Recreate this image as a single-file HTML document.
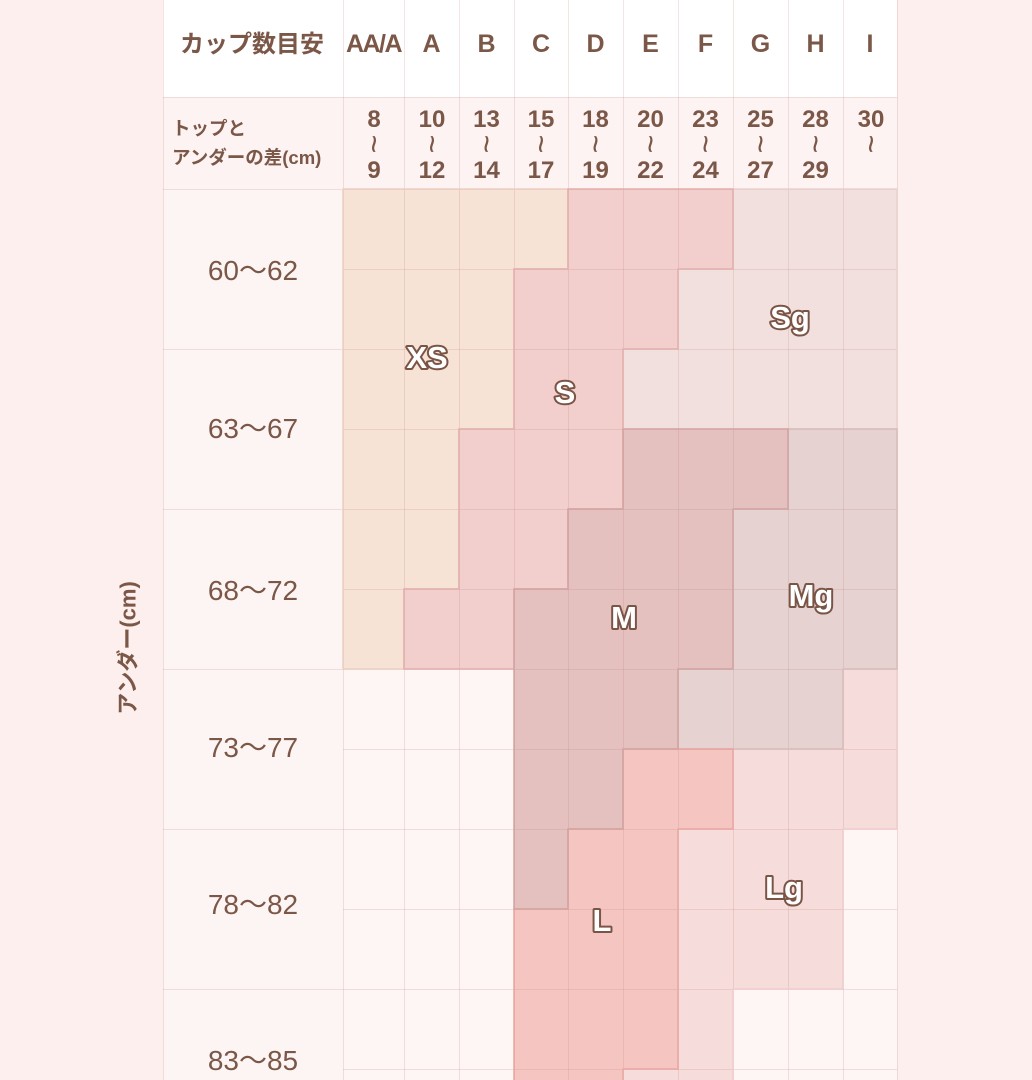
<!DOCTYPE html>
<html><head><meta charset="utf-8"><style>
html,body{margin:0;padding:0;background:#fcefed;width:1032px;height:1080px;overflow:hidden;}
svg{display:block;}
text{font-family:"Liberation Sans","Noto Sans CJK JP",sans-serif;fill:#7b5748;}
.h{font-weight:bold;font-size:25px;text-anchor:middle;}
.n{font-weight:bold;font-size:24px;text-anchor:middle;}
.rl{font-size:28px;text-anchor:middle;}
.lab{font-weight:bold;font-size:31px;text-anchor:middle;fill:#fff;stroke:#7a5445;stroke-width:4;paint-order:stroke;stroke-linejoin:round;}
</style></head><body>
<svg width="1032" height="1080" viewBox="0 0 1032 1080" xmlns="http://www.w3.org/2000/svg">
<rect x="0" y="0" width="1032" height="1080" fill="#fcefed"/>
<!-- header rows -->
<rect x="163" y="0" width="734" height="97" fill="#ffffff"/>
<rect x="163" y="97" width="734" height="92" fill="#fdf3f2"/>
<!-- label column -->
<rect x="163" y="189" width="180" height="891" fill="#fdf5f4"/>
<!-- empty cell bg -->
<rect x="343" y="189" width="554" height="891" fill="#fdf6f5"/>

<!-- region fills -->
<g>
<polygon fill="#f7e2d6" points="343,189 568,189 568,269 514,269 514,429 459,429 459,589 404,589 404,669 343,669"/>
<polygon fill="#f2cfcd" points="568,189 733,189 733,269 678,269 678,349 623,349 623,509 568,509 568,589 514,589 514,669 404,669 404,589 459,589 459,429 514,429 514,269 568,269"/>
<polygon fill="#f2e0de" points="733,189 897,189 897,429 623,429 623,349 678,349 678,269 733,269"/>
<polygon fill="#e4c1bf" points="623,429 788,429 788,509 733,509 733,669 678,669 678,749 623,749 623,829 568,829 568,909 514,909 514,589 568,589 568,509 623,509"/>
<polygon fill="#e6d3d1" points="788,429 897,429 897,669 843,669 843,749 678,749 678,669 733,669 733,509 788,509"/>
<polygon fill="#f5c6c1" points="623,749 733,749 733,829 678,829 678,1069 623,1069 623,1090 514,1090 514,909 568,909 568,829 623,829"/>
<polygon fill="#f6dcda" points="843,669 897,669 897,829 843,829 843,989 733,989 733,1090 623,1090 623,1069 678,1069 678,829 733,829 733,749 843,749"/>
</g>

<!-- grid lines -->
<g stroke="rgba(190,125,115,0.2)" stroke-width="1">
<line x1="163" y1="97.5" x2="897" y2="97.5"/>
<line x1="163" y1="189.5" x2="897" y2="189.5"/>
<line x1="163.5" y1="0" x2="163.5" y2="1080"/>
<line x1="343.5" y1="0" x2="343.5" y2="1080"/>
<line x1="404.5" y1="0" x2="404.5" y2="1080"/>
<line x1="459.5" y1="0" x2="459.5" y2="1080"/>
<line x1="514.5" y1="0" x2="514.5" y2="1080"/>
<line x1="568.5" y1="0" x2="568.5" y2="1080"/>
<line x1="623.5" y1="0" x2="623.5" y2="1080"/>
<line x1="678.5" y1="0" x2="678.5" y2="1080"/>
<line x1="733.5" y1="0" x2="733.5" y2="1080"/>
<line x1="788.5" y1="0" x2="788.5" y2="1080"/>
<line x1="843.5" y1="0" x2="843.5" y2="1080"/>
<line x1="897.5" y1="0" x2="897.5" y2="1080"/>
<line x1="343" y1="269.5" x2="897" y2="269.5"/>
<line x1="163" y1="349.5" x2="897" y2="349.5"/>
<line x1="343" y1="429.5" x2="897" y2="429.5"/>
<line x1="163" y1="509.5" x2="897" y2="509.5"/>
<line x1="343" y1="589.5" x2="897" y2="589.5"/>
<line x1="163" y1="669.5" x2="897" y2="669.5"/>
<line x1="343" y1="749.5" x2="897" y2="749.5"/>
<line x1="163" y1="829.5" x2="897" y2="829.5"/>
<line x1="343" y1="909.5" x2="897" y2="909.5"/>
<line x1="163" y1="989.5" x2="897" y2="989.5"/>
<line x1="343" y1="1069.5" x2="897" y2="1069.5"/>
</g>

<!-- region borders -->
<g fill="none" stroke-width="1.5">
<polygon stroke="#efcdcb" points="843,669 897,669 897,829 843,829 843,989 733,989 733,1090 623,1090 623,1069 678,1069 678,829 733,829 733,749 843,749"/>
<polygon stroke="#ead2cf" points="733,189 897,189 897,429 623,429 623,349 678,349 678,269 733,269"/>
<polygon stroke="#ecd0c2" points="343,189 568,189 568,269 514,269 514,429 459,429 459,589 404,589 404,669 343,669"/>
<polygon stroke="#d6bcba" points="788,429 897,429 897,669 843,669 843,749 678,749 678,669 733,669 733,509 788,509"/>
<polygon stroke="#e3aeab" points="568,189 733,189 733,269 678,269 678,349 623,349 623,509 568,509 568,589 514,589 514,669 404,669 404,589 459,589 459,429 514,429 514,269 568,269"/>
<polygon stroke="#eaa49e" points="623,749 733,749 733,829 678,829 678,1069 623,1069 623,1090 514,1090 514,909 568,909 568,829 623,829"/>
<polygon stroke="#d2a3a2" points="623,429 788,429 788,509 733,509 733,669 678,669 678,749 623,749 623,829 568,829 568,909 514,909 514,589 568,589 568,509 623,509"/>
</g>

<!-- header row 1 -->
<text class="h" x="252" y="52" style="font-size:24px">カップ数目安</text>
<text class="h" x="373.5" y="52" letter-spacing="-1.5">AA/A</text>
<text class="h" x="431.5" y="52">A</text>
<text class="h" x="486.5" y="52">B</text>
<text class="h" x="541" y="52">C</text>
<text class="h" x="595.5" y="52">D</text>
<text class="h" x="650.5" y="52">E</text>
<text class="h" x="705.5" y="52">F</text>
<text class="h" x="760.5" y="52">G</text>
<text class="h" x="815.5" y="52">H</text>
<text class="h" x="870" y="52">I</text>

<!-- header row 2 -->
<text x="172" y="135" style="font-size:18.5px;font-weight:bold">トップと</text>
<text x="172" y="164" style="font-size:18.5px;font-weight:bold">アンダーの差(cm)</text>

<g>
<text class="n" x="374" y="127">8</text><text class="n" x="374" y="178">9</text>
<text class="n" x="432" y="127">10</text><text class="n" x="432" y="178">12</text>
<text class="n" x="486.5" y="127">13</text><text class="n" x="486.5" y="178">14</text>
<text class="n" x="541" y="127">15</text><text class="n" x="541" y="178">17</text>
<text class="n" x="595.5" y="127">18</text><text class="n" x="595.5" y="178">19</text>
<text class="n" x="650.5" y="127">20</text><text class="n" x="650.5" y="178">22</text>
<text class="n" x="705.5" y="127">23</text><text class="n" x="705.5" y="178">24</text>
<text class="n" x="760.5" y="127">25</text><text class="n" x="760.5" y="178">27</text>
<text class="n" x="815.5" y="127">28</text><text class="n" x="815.5" y="178">29</text>
<text class="n" x="871" y="127">30</text>
</g>
<g style="font-size:32px">
<text transform="translate(374,144) rotate(90)" text-anchor="middle" dominant-baseline="central">~</text>
<text transform="translate(432,144) rotate(90)" text-anchor="middle" dominant-baseline="central">~</text>
<text transform="translate(486.5,144) rotate(90)" text-anchor="middle" dominant-baseline="central">~</text>
<text transform="translate(541,144) rotate(90)" text-anchor="middle" dominant-baseline="central">~</text>
<text transform="translate(595.5,144) rotate(90)" text-anchor="middle" dominant-baseline="central">~</text>
<text transform="translate(650.5,144) rotate(90)" text-anchor="middle" dominant-baseline="central">~</text>
<text transform="translate(705.5,144) rotate(90)" text-anchor="middle" dominant-baseline="central">~</text>
<text transform="translate(760.5,144) rotate(90)" text-anchor="middle" dominant-baseline="central">~</text>
<text transform="translate(815.5,144) rotate(90)" text-anchor="middle" dominant-baseline="central">~</text>
<text transform="translate(871,144) rotate(90)" text-anchor="middle" dominant-baseline="central">~</text>
</g>

<!-- row labels -->
<text class="rl" x="253" y="280">60〜62</text>
<text class="rl" x="253" y="438">63〜67</text>
<text class="rl" x="253" y="600">68〜72</text>
<text class="rl" x="253" y="757">73〜77</text>
<text class="rl" x="253" y="914">78〜82</text>
<text class="rl" x="253" y="1070">83〜85</text>

<!-- vertical axis title -->
<text transform="translate(128,648) rotate(-90)" text-anchor="middle" dominant-baseline="central" style="font-size:22px;font-weight:bold">アンダー(cm)</text>

<!-- region labels -->
<text class="lab" x="427" y="368">XS</text>
<text class="lab" x="565" y="403">S</text>
<text class="lab" x="790" y="328">Sg</text>
<text class="lab" x="624" y="628">M</text>
<text class="lab" x="811" y="606">Mg</text>
<text class="lab" x="602" y="931">L</text>
<text class="lab" x="784" y="898">Lg</text>
</svg>
</body></html>
